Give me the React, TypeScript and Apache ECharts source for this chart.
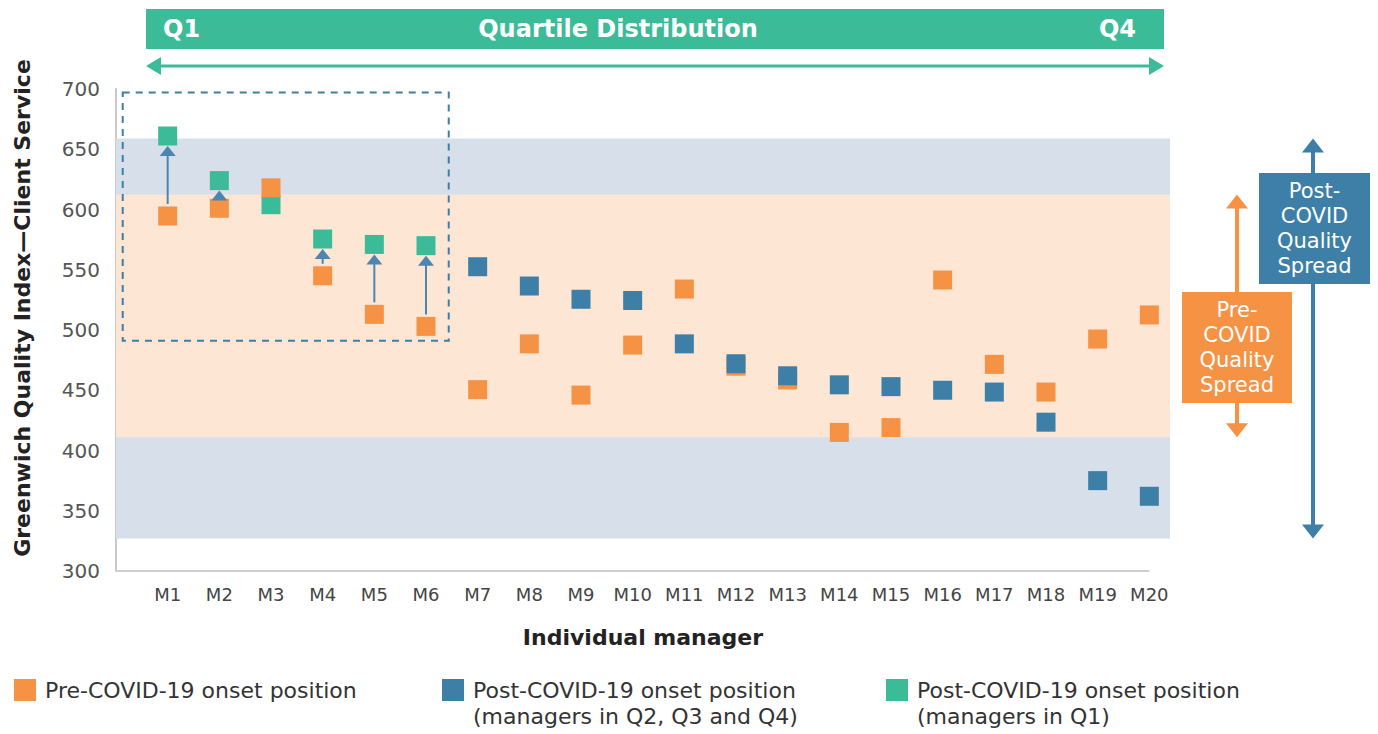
import React, { useEffect, useRef } from "react";
import * as echarts from "echarts";

const categories = ["M1","M2","M3","M4","M5","M6","M7","M8","M9","M10","M11","M12","M13","M14","M15","M16","M17","M18","M19","M20"];
const preCovid = [594.6, 601, 618, 545, 513, 503, 450.5, 488.5, 446, 487.5, 534, 470, 458.5, 415, 419, 541.5, 471.5, 448.5, 492.5, 512.5];
const postCovidQ234: (number | null)[] = [null, null, null, null, null, null, 552.5, 536.5, 525.5, 524.5, 488.5, 472, 462, 454.5, 453, 450, 448.5, 423.5, 375, 362];
const postCovidQ1: (number | null)[] = [661, 624, 604, 575.5, 571, 570, null, null, null, null, null, null, null, null, null, null, null, null, null, null];
const yTicks = { min: 300, max: 700, interval: 50 };
const postSpreadBand = [327, 659];
const preSpreadBand = [411, 612.5];
const focusBox = { x0: 0.13, x1: 6.44, y0: 491, y1: 697 };

const ORANGE = "#F59244";
const BLUE = "#3D7FA7";
const GREEN = "#3CBB99";
const BAND_BLUE = "#D6DFEA";
const BAND_ORANGE = "#FDE6D4";
const FONT = "'DejaVu Sans', 'Open Sans', sans-serif";

export default function App() {
  const ref = useRef<HTMLDivElement>(null);
  useEffect(() => {
    if (!ref.current) return;
    const chart = echarts.init(ref.current, null, { renderer: "svg" });
    const toPts = (arr: (number | null)[]) =>
      arr.map((v, i) => (v == null ? null : [i + 1, v])).filter((d) => d) as number[][];
    const arrowData = postCovidQ1
      .map((v, i) => (v != null && v > preCovid[i] ? [i + 1, preCovid[i], v] : null))
      .filter((d) => d) as number[][];

    chart.setOption({
      animation: false,
      grid: { left: 116, right: 208, top: 89, bottom: 163 },
      xAxis: {
        type: "value",
        min: 0,
        max: 20.4,
        interval: 1,
        axisLine: { show: false },
        axisTick: { show: false },
        splitLine: { show: false },
        axisLabel: {
          color: "#444",
          fontSize: 18,
          fontFamily: FONT,
          margin: 14,
          formatter: (v: number) => (Number.isInteger(v) && v >= 1 && v <= categories.length ? categories[v - 1] : ""),
        },
        name: "Individual manager",
        nameLocation: "middle",
        nameGap: 55,
        nameTextStyle: { color: "#222", fontSize: 22, fontWeight: "bold", fontFamily: FONT },
      },
      yAxis: {
        type: "value",
        min: yTicks.min,
        max: yTicks.max,
        interval: yTicks.interval,
        axisLine: { show: true, lineStyle: { color: "#c9c9c9", width: 2 } },
        axisTick: { show: false },
        splitLine: { show: false },
        axisLabel: { color: "#555", fontSize: 20, fontFamily: FONT, margin: 16 },
      },
      series: [
        {
          name: "bands",
          type: "scatter",
          data: [],
          silent: true,
          z: 1,
          markArea: {
            silent: true,
            data: [
              [{ yAxis: postSpreadBand[0], itemStyle: { color: BAND_BLUE } }, { yAxis: postSpreadBand[1] }],
              [{ yAxis: preSpreadBand[0], itemStyle: { color: BAND_ORANGE } }, { yAxis: preSpreadBand[1] }],
            ],
          },
          markLine: {
            silent: true,
            symbol: "none",
            label: { show: false },
            lineStyle: { color: "#cfcfcf", width: 2, type: "solid" },
            data: [[{ coord: [0, yTicks.min] }, { coord: [categories.length, yTicks.min] }]],
          },
        },
        {
          name: "Post-COVID-19 onset position (managers in Q1)",
          type: "scatter",
          symbol: "rect",
          symbolSize: 19,
          itemStyle: { color: GREEN, opacity: 1 },
          data: toPts(postCovidQ1),
          z: 3,
        },
        {
          name: "Pre-COVID-19 onset position",
          type: "scatter",
          symbol: "rect",
          symbolSize: 19,
          itemStyle: { color: ORANGE, opacity: 1 },
          data: toPts(preCovid),
          z: 4,
        },
        {
          name: "Post-COVID-19 onset position (managers in Q2, Q3 and Q4)",
          type: "scatter",
          symbol: "rect",
          symbolSize: 19,
          itemStyle: { color: BLUE, opacity: 1 },
          data: toPts(postCovidQ234),
          z: 5,
        },
        {
          name: "arrows",
          type: "custom",
          z: 6,
          silent: true,
          data: arrowData,
          renderItem: (params: any, api: any) => {
            const x = api.value(0);
            const p0 = api.coord([x, api.value(1)]);
            const p1 = api.coord([x, api.value(2)]);
            const half = 10;
            const headH = 10;
            const headW = 8;
            const y0 = p0[1] - half - 2;
            const tip = p1[1] + half;
            return {
              type: "group",
              children: [
                {
                  type: "line",
                  shape: { x1: p0[0], y1: y0, x2: p0[0], y2: tip + headH - 1 },
                  style: { stroke: "#4A86B0", lineWidth: 2 },
                },
                {
                  type: "polygon",
                  shape: { points: [[p0[0], tip], [p0[0] - headW, tip + headH], [p0[0] + headW, tip + headH]] },
                  style: { fill: "#4A86B0" },
                },
              ],
            };
          },
        },
        {
          name: "focus",
          type: "scatter",
          data: [],
          silent: true,
          z: 2,
          markArea: {
            silent: true,
            itemStyle: { color: "rgba(0,0,0,0)", borderColor: "#3D7FA7", borderWidth: 2, borderType: [7, 6] },
            data: [[{ coord: [focusBox.x0, focusBox.y1] }, { coord: [focusBox.x1, focusBox.y0] }]],
          },
        },
      ],
    });

    const py = (v: number) => chart.convertToPixel({ yAxisIndex: 0 }, v) as number;
    const spreadArrow = (x: number, top: number, bottom: number, color: string) => [
      { type: "line", shape: { x1: x, y1: top + 12, x2: x, y2: bottom - 12 }, style: { stroke: color, lineWidth: 4 } },
      { type: "polygon", shape: { points: [[x, top], [x - 11, top + 14], [x + 11, top + 14]] }, style: { fill: color } },
      { type: "polygon", shape: { points: [[x, bottom], [x - 11, bottom - 14], [x + 11, bottom - 14]] }, style: { fill: color } },
    ];
    const spreadBox = (x: number, y: number, w: number, h: number, color: string, text: string) => [
      { type: "rect", shape: { x, y, width: w, height: h }, style: { fill: color } },
      {
        type: "text",
        x: x + w / 2,
        y: y + h / 2,
        style: {
          text,
          fill: "#fff",
          fontSize: 21,
          fontFamily: FONT,
          lineHeight: 25,
          align: "center",
          verticalAlign: "middle",
        },
      },
    ];
    const legendItem = (x: number, color: string, text: string) => [
      { type: "rect", shape: { x, y: 679, width: 22, height: 22 }, style: { fill: color } },
      {
        type: "text",
        x: x + 31,
        y: 677,
        style: { text, fill: "#333", fontSize: 22, fontFamily: FONT, lineHeight: 26, align: "left", verticalAlign: "top" },
      },
    ];
    const bannerText = (x: number, text: string, align: string) => ({
      type: "text",
      x,
      y: 29,
      style: { text, fill: "#fff", fontSize: 24, fontWeight: "bold", fontFamily: FONT, align, verticalAlign: "middle" },
    });

    chart.setOption({
      graphic: [
        { type: "rect", shape: { x: 146, y: 9, width: 1018, height: 40 }, style: { fill: GREEN } },
        bannerText(163, "Q1", "left"),
        bannerText(618, "Quartile Distribution", "center"),
        bannerText(1136, "Q4", "right"),
        { type: "line", shape: { x1: 156, y1: 66, x2: 1154, y2: 66 }, style: { stroke: GREEN, lineWidth: 3 } },
        { type: "polygon", shape: { points: [[146, 66], [161, 57], [161, 75]] }, style: { fill: GREEN } },
        { type: "polygon", shape: { points: [[1164, 66], [1149, 57], [1149, 75]] }, style: { fill: GREEN } },
        {
          type: "text",
          x: 22,
          y: 308,
          rotation: Math.PI / 2,
          style: {
            text: "Greenwich Quality Index\u2014Client Service",
            fill: "#222",
            fontSize: 22,
            fontWeight: "bold",
            fontFamily: FONT,
            align: "center",
            verticalAlign: "middle",
          },
        },
        ...spreadArrow(1237, py(preSpreadBand[1]), py(preSpreadBand[0]), ORANGE),
        ...spreadBox(1182, 292, 110, 111, ORANGE, "Pre-\nCOVID\nQuality\nSpread"),
        ...spreadArrow(1313, py(postSpreadBand[1]), py(postSpreadBand[0]), BLUE),
        ...spreadBox(1259, 173, 111, 111, BLUE, "Post-\nCOVID\nQuality\nSpread"),
        ...legendItem(14, ORANGE, "Pre-COVID-19 onset position"),
        ...legendItem(442, BLUE, "Post-COVID-19 onset position\n(managers in Q2, Q3 and Q4)"),
        ...legendItem(886, GREEN, "Post-COVID-19 onset position\n(managers in Q1)"),
      ],
    });

    return () => chart.dispose();
  }, []);
  return <div ref={ref} style={{ position: "fixed", left: 0, top: 0, width: 1378, height: 734, background: "#fff" }} />;
}
